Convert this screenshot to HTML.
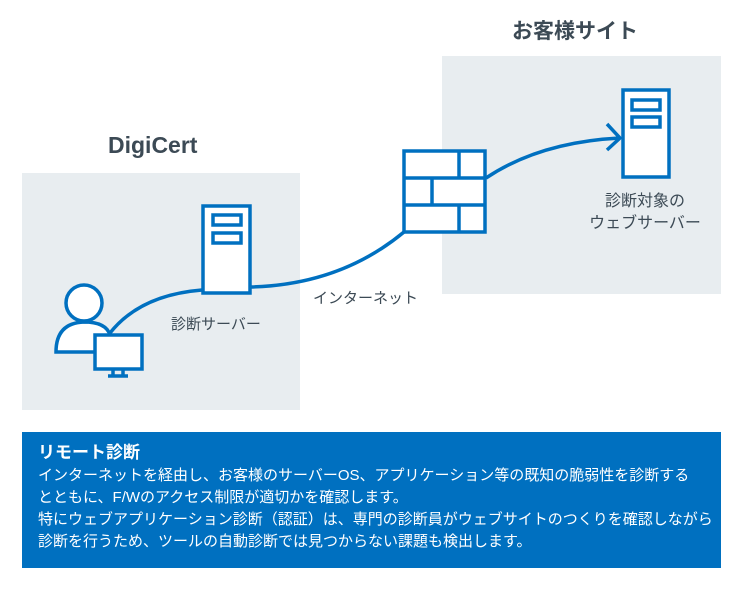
<!DOCTYPE html><html><head><meta charset="utf-8"><style>
body{margin:0;width:748px;height:594px;background:#fff;font-family:"Liberation Sans","Noto Sans CJK JP",sans-serif;position:relative;overflow:hidden}
.t{position:absolute;color:#3c4a55}
</style></head><body>
<svg width="748" height="594" style="position:absolute;left:0;top:0">
<rect x="22" y="173" width="278" height="237" fill="#e8edf0"/>
<rect x="442" y="56" width="279" height="238" fill="#e8edf0"/>
<g fill="none" stroke="#0070c0" stroke-width="3.5">
<path d="M110 333 Q140 295 202 290"/>
<path d="M250 287 Q340 285 404 232"/>
<path d="M486 178 Q540 142 620 138"/>
<path d="M607 124 L620 138 L607 150"/>
</g>
<g stroke="#0070c0" stroke-width="3.5" fill="#fff">
<rect x="203" y="206" width="47" height="87"/>
<rect x="213" y="215" width="28" height="10"/>
<rect x="213" y="233" width="28" height="10"/>
<rect x="623" y="90" width="46" height="87"/>
<rect x="632" y="100" width="28" height="10"/>
<rect x="632" y="117" width="28" height="10"/>
<rect x="404" y="151" width="81" height="81"/>
<line x1="404" y1="178" x2="485" y2="178"/><line x1="404" y1="205" x2="485" y2="205"/>
<line x1="459" y1="151" x2="459" y2="178"/><line x1="432" y1="178" x2="432" y2="205"/><line x1="459" y1="205" x2="459" y2="232"/>
<circle cx="84" cy="303" r="18"/>
<path d="M56 352 Q56 323 84 322 Q106 322 110 335 L110 352 Z"/>
<rect x="95" y="335" width="47" height="34"/>
<line x1="108" y1="376" x2="128" y2="376"/><line x1="113" y1="369" x2="113" y2="376"/><line x1="123" y1="369" x2="123" y2="376"/>
</g>
<rect x="22" y="432" width="699" height="136" fill="#0070c0"/>
</svg>
<div class="t" style="left:108px;top:132px;font-size:23px;font-weight:bold">DigiCert</div>
<div class="t" style="left:512px;top:15px;font-size:21px;font-weight:bold">お客様サイト</div>
<div class="t" style="left:171px;top:313px;font-size:15px">診断サーバー</div>
<div class="t" style="left:313px;top:287px;font-size:15px">インターネット</div>
<div class="t" style="left:582px;top:191px;width:126px;text-align:center;font-size:16px;line-height:22px">診断対象の<br>ウェブサーバー</div>
<div style="position:absolute;left:38px;top:441px;color:#fff;font-size:15px;line-height:22px;width:690px;white-space:nowrap">
<div style="font-size:17px;font-weight:bold;line-height:24px">リモート診断</div>
インターネットを経由し、お客様のサーバーOS、アプリケーション等の既知の脆弱性を診断する<br>とともに、F/Wのアクセス制限が適切かを確認します。<br>特にウェブアプリケーション診断（認証）は、専門の診断員がウェブサイトのつくりを確認しながら<br>診断を行うため、ツールの自動診断では見つからない課題も検出します。
</div>
</body></html>
